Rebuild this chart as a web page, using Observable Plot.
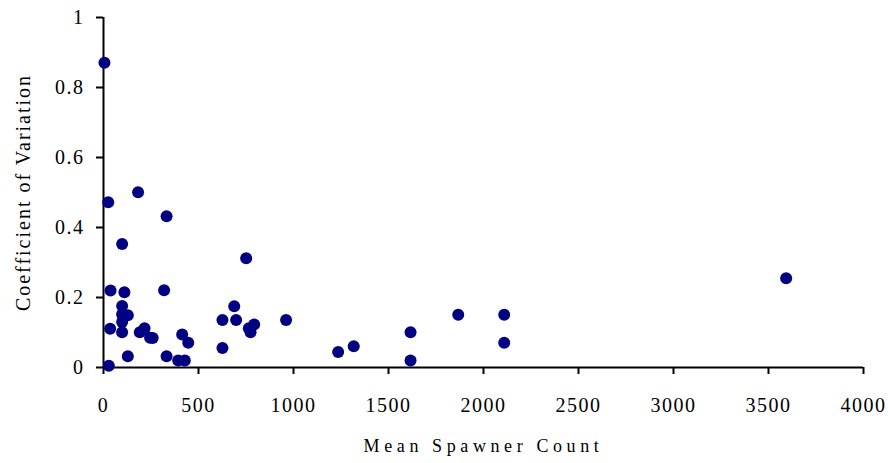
<!DOCTYPE html>
<html>
<head>
<meta charset="utf-8">
<script src="https://cdn.jsdelivr.net/npm/d3@7"></script>
<script src="https://cdn.jsdelivr.net/npm/@observablehq/plot@0.6"></script>
<style>
  html, body { margin: 0; padding: 0; background: #fff; }
  svg, svg text { font-family: "Liberation Serif", "Times New Roman", serif !important; }
  g[aria-label="x-axis tick label"] text,
  g[aria-label="y-axis tick label"] text { letter-spacing: 1.5px; }
  .xtitle text { letter-spacing: 4.6px; }
  .ytitle text { letter-spacing: 2px; }
</style>
</head>
<body>
<div id="chart"></div>
<script>
const spawnerCount = [5, 25, 28, 37, 35, 98, 110, 98, 98, 98, 98, 128, 128, 182, 191, 216, 245, 259, 319, 332, 332, 393, 414, 428, 446, 626, 626, 688, 698, 751, 765, 774, 793, 961, 1235, 1317, 1616, 1616, 1867, 2109, 2109, 3593];
const coefVariation = [0.871, 0.472, 0.005, 0.220, 0.111, 0.353, 0.215, 0.176, 0.152, 0.130, 0.101, 0.149, 0.032, 0.501, 0.101, 0.112, 0.085, 0.084, 0.221, 0.432, 0.032, 0.020, 0.094, 0.020, 0.071, 0.136, 0.056, 0.175, 0.136, 0.312, 0.112, 0.101, 0.123, 0.136, 0.044, 0.061, 0.101, 0.020, 0.151, 0.151, 0.071, 0.255];
const xTicks = [0, 500, 1000, 1500, 2000, 2500, 3000, 3500, 4000];
const yTicks = [0, 0.2, 0.4, 0.6, 0.8, 1];
const xTitle = "Mean Spawner Count";
const yTitle = "Coefficient of Variation";

const data = spawnerCount.map((x, i) => ({x, y: coefVariation[i]}));

const chart = Plot.plot({
  width: 888,
  height: 463,
  marginLeft: 103,
  marginRight: 25,
  marginTop: 17,
  marginBottom: 96,
  style: {fontSize: "20px", color: "#000", background: "#fff"},
  x: {domain: [0, 4000]},
  y: {domain: [0, 1]},
  marks: [
    Plot.axisX({ticks: xTicks, tickSize: 7, tickPadding: 23, strokeWidth: 2, label: null, tickFormat: d => String(d)}),
    Plot.axisY({ticks: yTicks, tickSize: 7, tickPadding: 12, strokeWidth: 2, label: null, tickFormat: d => String(d)}),
    Plot.ruleY([0], {stroke: "#000", strokeWidth: 2}),
    Plot.ruleX([0], {stroke: "#000", strokeWidth: 2}),
    Plot.dot(data, {x: "x", y: "y", r: 6, fill: "#000080", stroke: "none"}),
    Plot.text([xTitle], {frameAnchor: "bottom", dy: 84, text: d => d, fontSize: 18, className: "xtitle", fill: "#000"}),
    Plot.text([yTitle], {frameAnchor: "left", textAnchor: "middle", dx: -80, rotate: -90, text: d => d, fontSize: 20, className: "ytitle", fill: "#000"})
  ]
});
document.getElementById("chart").appendChild(chart);
</script>
</body>
</html>
